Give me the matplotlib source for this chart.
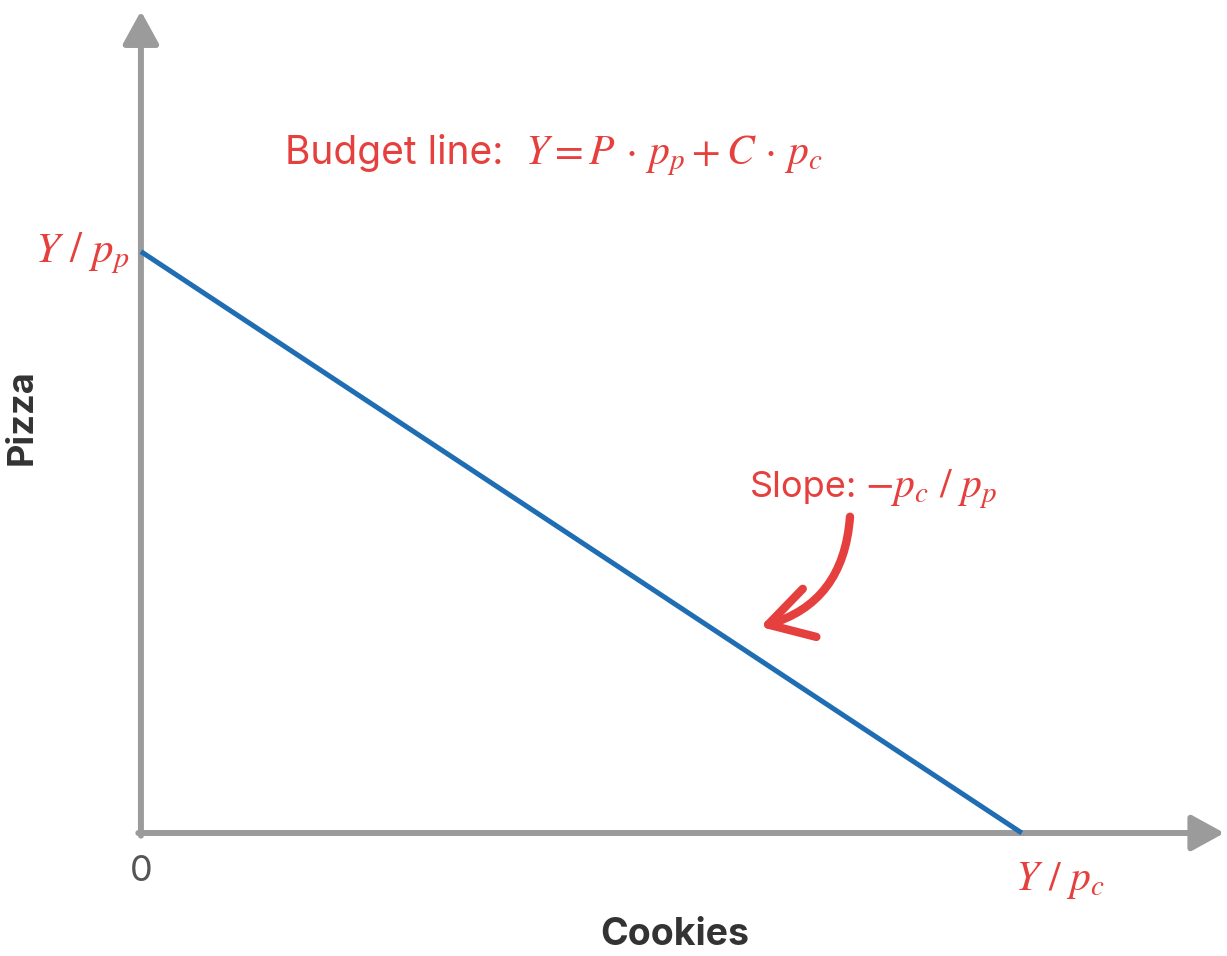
import matplotlib
matplotlib.use("Agg")
import matplotlib.pyplot as plt

plt.rcParams['font.family'] = ['Inter', 'DejaVu Sans']
plt.rcParams['mathtext.fontset'] = 'stix'

# budget line data (intercepts)
cookies = [0, 10.0]      # Y/p_c on the cookies axis
pizza = [6.6, 0]         # Y/p_p on the pizza axis

red = '#e5403d'
gray = '#9b9b9b'
blue = '#1f6db3'

fig = plt.figure(figsize=(12.27, 9.56), dpi=100)
ax = fig.add_axes([0, 0, 1, 1])
ax.set_xlim(-1.6, 12.33)
ax.set_ylim(-1.396, 9.455)
ax.axis('off')

# axes arrows
arrow = dict(arrowstyle='-|>,head_length=1.0,head_width=0.55', lw=4.3,
             color=gray, mutation_scale=20, shrinkA=0, shrinkB=0)
ax.annotate('', xy=(12.3, 0), xytext=(-0.03, 0), arrowprops=arrow)
ax.annotate('', xy=(0, 9.33), xytext=(0, -0.03), arrowprops=arrow)

# budget line
ax.plot(cookies, pizza, color=blue, lw=3.6, solid_capstyle='butt', zorder=3)

# budget line equation
ax.text(1.63, 7.59, 'Budget line:', color=red, fontsize=28,
        ha='left', va='baseline')
ax.text(4.36, 7.59, r'$Y = P\, \cdot\, p_p + C\, \cdot\, p_c$', color=red,
        fontsize=30, ha='left', va='baseline')

# intercepts
ax.text(-1.20, 6.48, r'$Y\ /\ p_p$', color=red, fontsize=31,
        ha='left', va='baseline')
ax.text(9.92, -0.65, r'$Y\ /\ p_c$', color=red, fontsize=30,
        ha='left', va='baseline')
ax.text(0, -0.44, '0', color='#555555', fontsize=26,
        ha='center', va='center')

# slope
ax.text(6.91, 3.81, 'Slope:', color=red, fontsize=26,
        ha='left', va='baseline')
ax.text(8.22, 3.81, r'$-p_c\ /\ p_p$', color=red, fontsize=30,
        ha='left', va='baseline')

# axis titles
ax.text(6.06, -1.16, 'Cookies', fontsize=27, fontweight='bold',
        color='#333333', ha='center', va='center')
ax.text(-1.35, 4.72, 'Pizza', fontsize=26, fontweight='bold',
        color='#333333', ha='center', va='center', rotation=90)

# curved red arrow pointing at the line
ax.annotate('', xy=(7.03, 2.34), xytext=(8.05, 3.59),
            arrowprops=dict(arrowstyle='->,head_length=1.55,head_width=0.9',
                            lw=6, color=red, mutation_scale=20,
                            shrinkA=0, shrinkB=0,
                            connectionstyle='arc3,rad=-0.35',
                            capstyle='round', joinstyle='round'))

fig.savefig('out.png', dpi=100)
